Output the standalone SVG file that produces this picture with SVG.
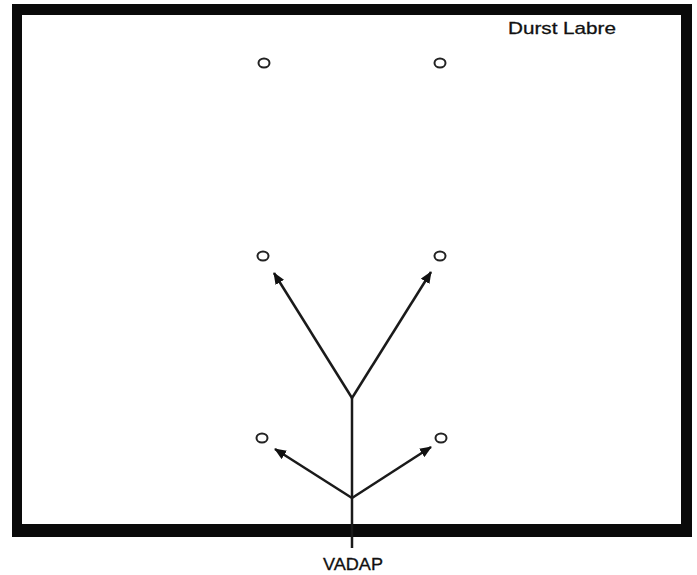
<svg xmlns="http://www.w3.org/2000/svg" width="697" height="575" viewBox="0 0 697 575">
  <defs>
    <marker id="arrow" viewBox="0 0 12 10" refX="11" refY="5" markerWidth="12" markerHeight="10" markerUnits="userSpaceOnUse" orient="auto">
      <path d="M0,0 L12,5 L0,10 z" fill="#111"/>
    </marker>
  </defs>
  <style>
    .frame { fill: #0a0a0a; }
    .node { fill: none; stroke: #222; stroke-width: 2; }
    .edge { fill: none; stroke: #1a1a1a; stroke-width: 2.5; }
    .label { font-family: "Liberation Sans", Arial, sans-serif; fill: #111; stroke: #111; stroke-width: 0.3; }
  </style>
  <rect width="697" height="575" fill="#ffffff"/>
  <g id="frame">
    <rect class="frame" x="12" y="4" width="680" height="11"/>
    <rect class="frame" x="12" y="4" width="10" height="533"/>
    <rect class="frame" x="681" y="4" width="11" height="533"/>
    <rect class="frame" x="12" y="524" width="680" height="13"/>
  </g>
  <g id="connectors">
    <line class="edge" x1="352" y1="548" x2="352" y2="398"/>
    <line class="edge" x1="352" y1="398" x2="274" y2="273" marker-end="url(#arrow)"/>
    <line class="edge" x1="352" y1="398" x2="431" y2="272" marker-end="url(#arrow)"/>
    <line class="edge" x1="352" y1="498" x2="275" y2="449" marker-end="url(#arrow)"/>
    <line class="edge" x1="352" y1="498" x2="431" y2="447" marker-end="url(#arrow)"/>
  </g>
  <g id="node-top-left"><ellipse class="node" cx="264" cy="63" rx="5.5" ry="4.5"/></g>
  <g id="node-top-right"><ellipse class="node" cx="440" cy="63" rx="5.5" ry="4.5"/></g>
  <g id="node-mid-left"><ellipse class="node" cx="263" cy="256" rx="5.5" ry="4.5"/></g>
  <g id="node-mid-right"><ellipse class="node" cx="440" cy="256" rx="5.5" ry="4.5"/></g>
  <g id="node-low-left"><ellipse class="node" cx="262" cy="438" rx="5.5" ry="4.5"/></g>
  <g id="node-low-right"><ellipse class="node" cx="441" cy="438" rx="5.5" ry="4.5"/></g>
  <g id="label-durst"><text class="label" x="508" y="34" font-size="17" textLength="108" lengthAdjust="spacingAndGlyphs">Durst Labre</text></g>
  <g id="label-vadap"><text class="label" x="353" y="570" font-size="17" text-anchor="middle" textLength="60" lengthAdjust="spacingAndGlyphs">VADAP</text></g>
</svg>
